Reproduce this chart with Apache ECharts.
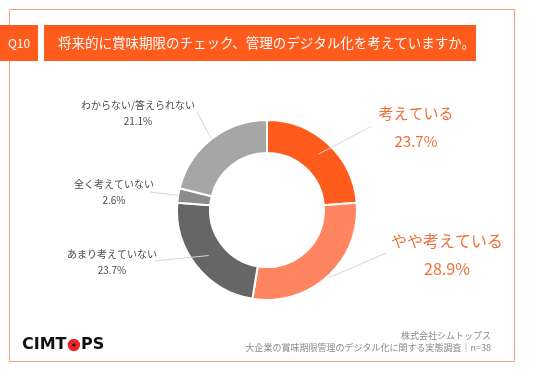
<!DOCTYPE html>
<html><head><meta charset="utf-8">
<script src="https://cdn.jsdelivr.net/npm/echarts@6/dist/echarts.min.js"></script>
<style>html,body{margin:0;padding:0;background:#fff}#c{width:536px;height:371px}</style>
</head><body><div id="c"></div>
<script>
const categories = ['考えている','やや考えている','あまり考えていない','全く考えていない','わからない/答えられない'];
const values = [23.7, 28.9, 23.7, 2.6, 21.1];
const sliceColors = ['#FF5B1C','#FF8460','#666666','#8C8C8C','#A6A6A6'];
const labelPos = [[416,127],[447,255],[112,262],[114,192],[138,113]];
const lineEndDx = [-44,-61,43,36,59];
const lineEndDy = [-1,-2,-1,0,-1];
const lineStartR = [76,92,74,90,91];
const FONT = '"Noto Sans CJK JP","Noto Sans",sans-serif';
const CX = 267, CY = 210;
const total = values.reduce((a,b)=>a+b,0);
const midAngles = []; {let c=0; values.forEach(v=>{midAngles.push((90-360*(c+v/2)/total)*Math.PI/180); c+=v;});}
const chart = echarts.init(document.getElementById('c'));
const orangeLbl = '#F0703A', grayLbl = '#4a4a4a';
const cv = document.createElement('canvas').getContext('2d');
const logoFont = 'bold 16px "DejaVu Sans",sans-serif';
cv.font = logoFont;
const wC = cv.measureText('CIMT').width, wO = cv.measureText('O').width;
const LX = 22, LY = 345;
const leaderLines = values.map((v,i)=>{
  const a=midAngles[i], r=lineStartR[i], pos=labelPos[i];
  return {type:'polyline',z:10,shape:{points:[[CX+r*Math.cos(a),CY-r*Math.sin(a)],[pos[0]+lineEndDx[i],pos[1]+lineEndDy[i]]]},
    style:{stroke:'#D6D6D6',lineWidth:1,fill:null}};
});
chart.setOption({
  animation:false,
  graphic:[
    {type:'rect',shape:{x:9.5,y:9.5,width:505,height:352},style:{fill:'none',stroke:'#F4A27C',lineWidth:1}},
    {type:'rect',shape:{x:0,y:25,width:38,height:36},style:{fill:'#FF5B1C'}},
    {type:'text',x:19,y:43,style:{text:'Q10',fill:'#fff',font:'12px '+FONT,align:'center',verticalAlign:'middle'}},
    {type:'rect',shape:{x:44,y:25,width:432,height:36},style:{fill:'#FF5B1C'}},
    {type:'text',x:58,y:43,style:{text:'将来的に賞味期限のチェック、管理のデジタル化を考えていますか。',fill:'#fff',font:'13.5px '+FONT,verticalAlign:'middle'}},
    {type:'text',x:LX,y:LY,style:{text:'CIMT',fill:'#111',font:logoFont,verticalAlign:'middle'}},
    {type:'circle',shape:{cx:LX+wC+wO/2+0.5,cy:LY,r:wO/2-0.6},style:{fill:'#E8262A'}},
    {type:'circle',shape:{cx:LX+wC+wO/2+0.5,cy:LY,r:1.6},style:{fill:'#1a1a1a'}},
    {type:'text',x:LX+wC+wO+0.8,y:LY,style:{text:'PS',fill:'#111',font:logoFont,verticalAlign:'middle'}},
    {type:'text',x:491,y:336,style:{text:'株式会社シムトップス',fill:'#8a8a8a',font:'9px '+FONT,align:'right',verticalAlign:'middle'}},
    {type:'text',x:491,y:348,style:{text:'大企業の賞味期限管理のデジタル化に関する実態調査｜n=38',fill:'#8a8a8a',font:'9px '+FONT,align:'right',verticalAlign:'middle'}}
  ].concat(leaderLines),
  series:[{
    type:'pie',center:[CX,CY],radius:[57,90],startAngle:90,clockwise:true,
    itemStyle:{borderColor:'#fff',borderWidth:2},
    data:categories.map((n,i)=>({name:n,value:values[i],itemStyle:{color:sliceColors[i]},
      label:{color:i<2?orangeLbl:grayLbl, fontSize:i<2?(i==0?15:16):10, lineHeight:i<2?28:16}})),
    label:{show:true,position:'outside',fontFamily:FONT,align:'center',
      formatter:p=>p.name+'\n'+p.value.toFixed(1)+'%'},
    labelLine:{show:false},
    labelLayout:p=>{const pos=labelPos[p.dataIndex];return {x:pos[0],y:pos[1],align:'center',verticalAlign:'middle'};}
  }]
});
</script></body></html>
